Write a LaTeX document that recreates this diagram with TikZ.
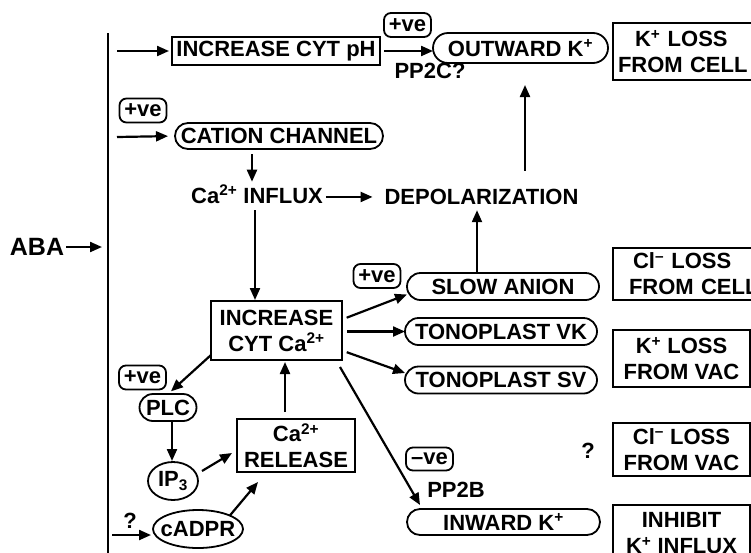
\documentclass[tikz,border=0pt]{standalone}
\usepackage{fontspec}
\setmainfont{Liberation Sans}
\usetikzlibrary{arrows.meta,shapes.geometric}
\begin{document}
\begin{tikzpicture}[x=1pt,y=-1pt,
  every node/.style={font=\bfseries\fontsize{22}{26}\selectfont, inner sep=0pt, outer sep=0pt},
  arr/.style={line width=2.2pt, -{Triangle[length=12pt,width=10pt]}},
  sqbox/.style={draw, line width=1.8pt, align=center},
  pill/.style={draw, line width=1.8pt, rounded corners=13pt, minimum height=26pt},
  tag/.style={draw, line width=1.8pt, rounded corners=7pt, minimum width=47pt, minimum height=24pt},
  oval/.style={draw, ellipse, line width=1.8pt},
  rbox/.style={draw, line width=1.8pt, anchor=north west, align=left, text width=200pt}
]
\useasboundingbox (0,0) rectangle (751,552);
\clip (0,0) rectangle (751,552);

% ABA and membrane line
\node[font=\bfseries\fontsize{25}{30}\selectfont] (aba) at (37,247) {ABA};
\coordinate (vtop) at (108,33);
\coordinate (vbot) at (108,553);
\coordinate (abaend) at (108,247);
\draw[line width=1.6pt] (vtop) -- (vbot);
\draw[arr, shorten <=2pt, shorten >=6pt] (aba.east) -- (abaend);

% top row
\node[sqbox, line width=2.3pt, minimum width=208pt, minimum height=28pt] (ph) at (276,51) {INCREASE CYT pH};
\coordinate (phin) at (117,51);
\draw[arr, shorten >=3pt] (phin) -- (ph.west);
\node[tag] (pos1) at (407.5,25) {+ve};
\node[pill, minimum width=175pt, minimum height=30pt, rounded corners=15pt] (outk) at (520.5,48) {OUTWARD K\textsuperscript{+}};
\draw[arr, shorten <=4pt] (ph.east) -- (ph.east -| outk.west);
\node[anchor=base] (pp2c) at (430,78) {PP2C?};
\node[rbox, inner xsep=5pt, minimum height=57pt] (kcell) at (613,23) {\hspace*{17pt}K\textsuperscript{+} LOSS\\FROM CELL};

% cation channel
\node[tag] (pos2) at (143,110.5) {+ve};
\coordinate (catin) at (117,137);
\node[pill, minimum width=208pt] (cation) at (279,136) {CATION CHANNEL};
\draw[arr, shorten >=7pt] (catin) -- (cation.west);

\node[anchor=base] (infl) at (257,203) {Ca\textsuperscript{2+} INFLUX};
\node[anchor=base] (depol) at (481.5,204) {DEPOLARIZATION};
\draw[arr, shorten <=5pt, shorten >=3pt] ([xshift=-27pt]cation.south) -- ([xshift=-27pt]cation.south |- infl.north);
\draw[arr, shorten <=3pt, shorten >=12pt] ([yshift=-3pt]infl.east) -- ([yshift=-3pt]infl.east -| depol.west);
\draw[arr, shorten <=18pt, shorten >=22pt] ([xshift=43.5pt]depol.north) -- ([xshift=43.5pt]depol.north |- outk.south);

% increase cyt Ca
\node[sqbox, minimum width=131pt, minimum height=59pt] (inca) at (276.5,330.5) {INCREASE\\CYT Ca\textsuperscript{2+}};
\draw[arr, shorten <=7pt, shorten >=1pt] ([xshift=-2pt]infl.south) -- ([xshift=-2pt]infl.south |- inca.north);

% channels
\node[tag] (pos3) at (377,276) {+ve};
\node[pill, minimum width=192pt, minimum height=27pt, rounded corners=13.5pt] (slow) at (503,286.5) {SLOW ANION};
\node[pill, minimum width=192pt, minimum height=27pt, rounded corners=13.5pt] (vk) at (501,331.5) {TONOPLAST VK};
\node[pill, minimum width=192pt, minimum height=27pt, rounded corners=13.5pt] (sv) at (501,380) {TONOPLAST SV};
\node[tag, minimum height=23pt] (neg) at (429.5,459) {--ve};
\node[anchor=base] (pp2b) at (456,497) {PP2B};
\node[pill, minimum width=193pt, minimum height=26pt] (inwk) at (503.5,522) {INWARD K\textsuperscript{+}};

\draw[arr, shorten <=5pt] ([yshift=11pt]inca.east) -- ([yshift=-8pt]slow.west);
\draw[arr, shorten <=5pt] (inca.east |- vk.west) -- (vk.west);
\draw[arr, shorten <=5pt] ([yshift=-20pt]inca.east) -- ([yshift=7pt]sv.west);
\draw[arr] ([xshift=-2pt,yshift=-7pt]inca.south east) -- ([xshift=13pt,yshift=4pt]inwk.north west);
\draw[arr, shorten >=6pt] ([xshift=-4.5pt]depol.south |- slow.north) -- ([xshift=-4.5pt]depol.south);

% right boxes
\node[rbox, inner xsep=16pt, minimum height=52pt] (clcell) at (613,248) {\hspace*{4pt}Cl\textsuperscript{--} LOSS\\FROM CELL};
\node[sqbox, anchor=north west, minimum width=137pt, minimum height=57pt] (kvac) at (613,330) {K\textsuperscript{+} LOSS\\FROM VAC};
\node[sqbox, anchor=north west, minimum width=137pt, minimum height=53pt] (clvac) at (613,423) {Cl\textsuperscript{--} LOSS\\FROM VAC};
\node[sqbox, anchor=north west, minimum width=137pt, minimum height=57pt] (inhib) at (613,505) {INHIBIT\\K\textsuperscript{+} INFLUX};
\node[anchor=base] (q2) at (588,458) {?};

% PLC branch
\node[tag] (pos4) at (142.5,377.5) {+ve};
\node[pill, minimum width=57pt, minimum height=27pt, rounded corners=13.5pt] (plc) at (168,407.5) {PLC};
\node[oval, minimum width=50pt, minimum height=38pt] (ip3) at (173,481) {IP\textsubscript{3}};
\node[sqbox, minimum width=118pt, minimum height=53pt] (rel) at (296,445.5) {Ca\textsuperscript{2+}\\RELEASE};
\node[oval, minimum width=90pt, minimum height=38pt] (cadpr) at (198,529) {\makebox[40pt]{cADPR}};
\node[anchor=base] (q1) at (130,528) {?};
\coordinate (cin) at (112,535);

\draw[arr, shorten >=4pt] ([yshift=5pt]inca.south west) -- (plc.north);
\draw[arr, shorten >=1pt] ([xshift=4pt]plc.south) -- ([xshift=4pt]plc.south |- ip3.north);
\draw[arr] ([xshift=4pt,yshift=10pt]ip3.east) -- ([xshift=-5pt,yshift=-7.5pt]rel.west);
\draw[arr] (cadpr.north east) -- ([xshift=21pt,yshift=-10pt]rel.south west);
\draw[arr, shorten <=7pt, shorten >=2pt] ([xshift=-11pt]rel.north) -- ([xshift=-11pt]rel.north |- inca.south);
\draw[arr, shorten >=2pt] (cin) -- ([yshift=-6pt]cadpr.west);
\end{tikzpicture}
\end{document}
